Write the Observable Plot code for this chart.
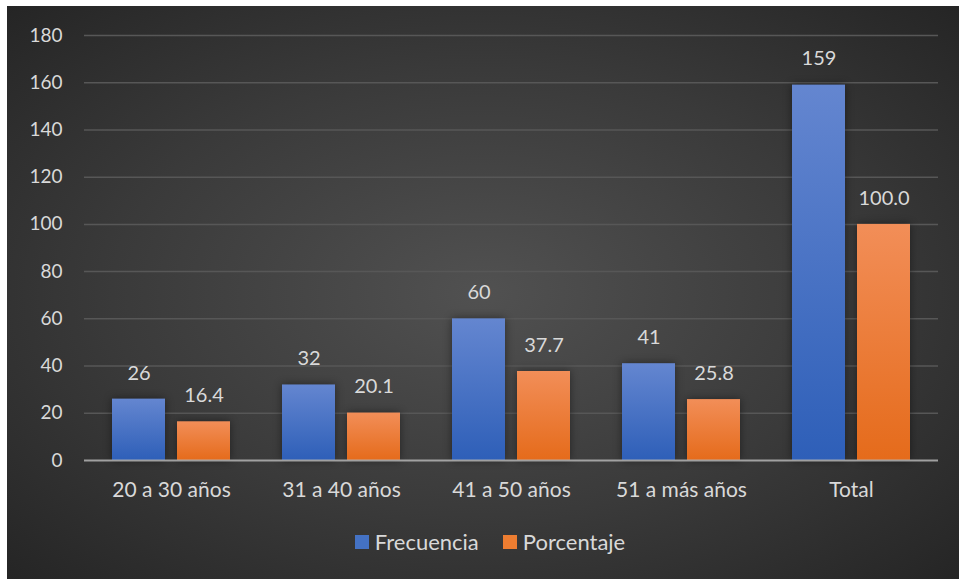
<!DOCTYPE html>
<html>
<head>
<meta charset="utf-8">
<script src="https://cdn.jsdelivr.net/npm/d3@7"></script>
<script src="https://cdn.jsdelivr.net/npm/@observablehq/plot@0.6"></script>
<style>
  html, body { margin: 0; padding: 0; background: #ffffff; }
  #panel {
    position: absolute; left: 7px; top: 6px; width: 952px; height: 573px;
    background: radial-gradient(ellipse farthest-corner at 50% 50%, #515151 0%, #3a3a3a 55%, #252525 100%);
    overflow: hidden;
  }
  #chart svg { display: block; background: transparent; }
  #legend { display: flex; justify-content: center; margin-top: 19px; margin-left: 38px; }
  #legend > div { font-family: Lato, "Open Sans", sans-serif; font-size: 22px; color: #d9d9d9; }
  #legend svg { margin-right: 6px !important; }
  #legend span { margin-right: 24px !important; }
</style>
</head>
<body>
<div id="panel">
  <div id="chart"></div>
  <div id="legend"></div>
</div>
<script>
const categories = ["20 a 30 años", "31 a 40 años", "41 a 50 años", "51 a más años", "Total"];
const seriesNames = ["Frecuencia", "Porcentaje"];
const frecuencia = [26, 32, 60, 41, 159];
const porcentaje = [16.4, 20.1, 37.7, 25.8, 100.0];
const yTicks = [0, 20, 40, 60, 80, 100, 120, 140, 160, 180];

const blueData = categories.map((c, i) => ({cat: c, series: seriesNames[0], value: frecuencia[i], label: String(frecuencia[i])}));
const orangeData = categories.map((c, i) => ({cat: c, series: seriesNames[1], value: porcentaje[i], label: porcentaje[i].toFixed(1)}));

const font = "Lato, 'Open Sans', sans-serif";
const textColor = "#d9d9d9";

const chart = Plot.plot({
  width: 952,
  height: 500,
  marginTop: 29,
  marginBottom: 46,
  marginLeft: 77,
  marginRight: 21,
  style: {background: "transparent", fontFamily: font, fontSize: "20px", color: textColor},
  x: {domain: categories, paddingInner: 0.303, paddingOuter: 0.1515, label: null},
  y: {domain: [0, 180], label: null},
  marks: [
    Plot.ruleY(yTicks.filter(t => t > 0), {stroke: "#575757", strokeWidth: 1.5}),
    Plot.barY(blueData, {x: "cat", y: "value", fill: "url(#gBlue)", insetRight: 65, className: "bars"}),
    Plot.barY(orangeData, {x: "cat", y: "value", fill: "url(#gOrange)", insetLeft: 65, className: "bars"}),
    Plot.ruleY([0], {stroke: "#b4b4b4", strokeOpacity: 0.85, strokeWidth: 2}),
    Plot.text(blueData, {x: "cat", y: "value", text: "label", dx: -32.5, dy: -26, fill: textColor, fontSize: 20, lineAnchor: "middle"}),
    Plot.text(orangeData, {x: "cat", y: "value", text: "label", dx: 32.5, dy: -26, fill: textColor, fontSize: 20, lineAnchor: "middle"}),
    Plot.axisY(yTicks, {tickSize: 0, tickPadding: 22, fill: textColor, fontSize: 19, label: null}),
    Plot.axisX({tickSize: 0, tickPadding: 22, fill: textColor, fontSize: 21, label: null})
  ]
});

const defs = d3.select(chart).insert("defs", ":first-child");
const gb = defs.append("linearGradient").attr("id", "gBlue").attr("x1", 0).attr("y1", 0).attr("x2", 0).attr("y2", 1);
gb.append("stop").attr("offset", "0%").attr("stop-color", "#6486d0");
gb.append("stop").attr("offset", "100%").attr("stop-color", "#2e5fb8");
const go = defs.append("linearGradient").attr("id", "gOrange").attr("x1", 0).attr("y1", 0).attr("x2", 0).attr("y2", 1);
go.append("stop").attr("offset", "0%").attr("stop-color", "#f28e58");
go.append("stop").attr("offset", "100%").attr("stop-color", "#e56b1b");
d3.select(chart).selectAll("g.bars").style("filter", "drop-shadow(0px 0px 4px rgba(0,0,0,0.45))");

document.getElementById("chart").appendChild(chart);

const legend = Plot.legend({
  color: {type: "ordinal", domain: seriesNames, range: ["#4472c4", "#ed7d31"]},
  swatchSize: 14,
  style: {fontFamily: font, fontSize: "22px", color: textColor}
});
document.getElementById("legend").appendChild(legend);
</script>
</body>
</html>
